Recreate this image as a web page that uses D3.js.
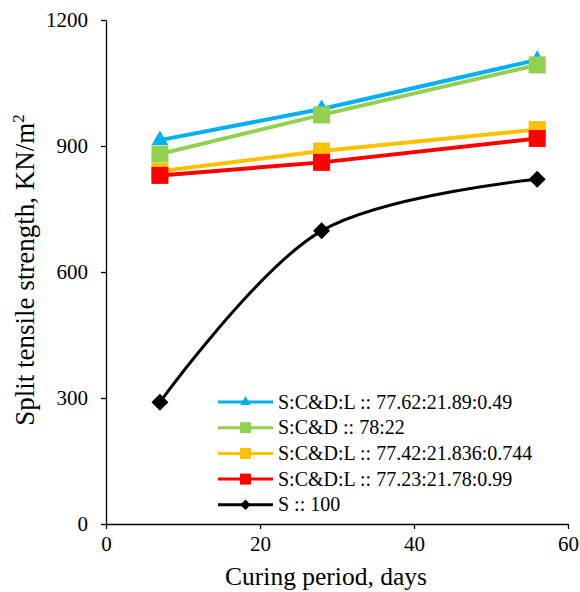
<!DOCTYPE html>
<html>
<head>
<meta charset="utf-8">
<script src="https://cdn.jsdelivr.net/npm/d3@7"></script>
<style>
  body { margin: 0; background: #fff; }
  svg text { font-family: "Liberation Serif", "Times New Roman", serif; fill: #000; }
</style>
</head>
<body>
<svg id="chart" width="580" height="592"></svg>
<script>
// Curing period (days)
const days = [7, 28, 56];

// Split tensile strength per mix, KN/m2
const blueValues = [914, 988, 1105];
const greenValues = [881, 974, 1093];
const yellowValues = [840, 888, 939];
const redValues = [830, 861, 918];
const blackValues = [290, 698, 821];

const xTicks = [0, 20, 40, 60];
const yTicks = [0, 300, 600, 900, 1200];

const series = [
  { name: 'S:C&D:L :: 77.62:21.89:0.49', values: blueValues, color: '#00B0F0', marker: 'triangle', smooth: false },
  { name: 'S:C&D :: 78:22', values: greenValues, color: '#92D050', marker: 'square', smooth: false },
  { name: 'S:C&D:L :: 77.42:21.836:0.744', values: yellowValues, color: '#FFC000', marker: 'square', smooth: false },
  { name: 'S:C&D:L :: 77.23:21.78:0.99', values: redValues, color: '#FF0000', marker: 'square', smooth: false },
  { name: 'S :: 100', values: blackValues, color: '#000000', marker: 'diamond', smooth: true }
];

const margin = { top: 20, right: 12, bottom: 68, left: 106 };
const width = 580 - margin.left - margin.right;
const height = 592 - margin.top - margin.bottom;

const svg = d3.select('#chart')
  .append('g')
  .attr('transform', `translate(${margin.left},${margin.top})`);

// Scales
const x = d3.scaleLinear().domain([0, 60]).range([0, width]);
const y = d3.scaleLinear().domain([0, 1200]).range([height, 0]);

// Axes
svg.append('g')
  .attr('transform', `translate(0,${height})`)
  .call(d3.axisBottom(x).tickValues(xTicks).tickFormat(d3.format('d')).tickSize(5).tickPadding(7).tickSizeOuter(0));

svg.append('g')
  .call(d3.axisLeft(y).tickValues(yTicks).tickFormat(d3.format('d')).tickSize(5).tickPadding(13).tickSizeOuter(0));

svg.selectAll('.tick text')
  .style('font-family', '"Liberation Serif", "Times New Roman", serif')
  .style('font-size', '21px');
svg.selectAll('.domain, .tick line').attr('stroke', '#000').attr('stroke-width', 1.3);

// Axis titles
svg.append('text')
  .attr('x', 220)
  .attr('y', height + 61)
  .attr('text-anchor', 'middle')
  .style('font-size', '25.5px')
  .text('Curing period, days');

const yTitle = svg.append('text')
  .attr('transform', `translate(${-72},${height / 2 - 2})rotate(-90)`)
  .attr('text-anchor', 'middle')
  .style('font-size', '27px');
yTitle.append('tspan').text('Split tensile strength, KN/m');
yTitle.append('tspan').attr('dy', -10).style('font-size', '17px').text('2');

// Marker shapes
const markerPath = (m, size) => {
  if (m === 'triangle') return d3.symbol(d3.symbolTriangle, size)();
  return d3.symbol(d3.symbolSquare, size)();
};
const markerSize = { triangle: 120, square: 289, diamond: 144 };
const legendSize = { triangle: 45, square: 121, diamond: 55 };

// Lines and markers
series.forEach((s) => {
  const pts = days.map((d, i) => ({ x: d, v: s.values[i] }));
  const line = d3.line()
    .x(d => x(d.x))
    .y(d => y(d.v));
  if (s.smooth) line.curve(d3.curveCatmullRom.alpha(0.5));

  svg.append('path')
    .attr('d', line(pts))
    .attr('fill', 'none')
    .attr('stroke', s.color)
    .attr('stroke-width', s.smooth ? 3 : 4);

  svg.selectAll(null)
    .data(pts)
    .enter()
    .append('path')
      .attr('d', markerPath(s.marker, markerSize[s.marker]))
      .attr('transform', d => `translate(${x(d.x)},${y(d.v)})` + (s.marker === 'diamond' ? 'rotate(45)' : ''))
      .attr('fill', s.color);
});

// Legend
const legend = svg.append('g')
  .attr('transform', `translate(${112},${382})`);

series.forEach((s, i) => {
  const row = legend.append('g').attr('transform', `translate(0,${i * 25.7})`);
  row.append('line')
    .attr('x1', 0).attr('x2', 55)
    .attr('stroke', s.color)
    .attr('stroke-width', 3);
  row.append('path')
    .attr('d', markerPath(s.marker, legendSize[s.marker]))
    .attr('transform', `translate(27.5,0)` + (s.marker === 'diamond' ? 'rotate(45)' : ''))
    .attr('fill', s.color);
  row.append('text')
    .attr('x', 60)
    .attr('dy', '0.33em')
    .style('font-size', '20px')
    .text(s.name);
});
</script>
</body>
</html>
